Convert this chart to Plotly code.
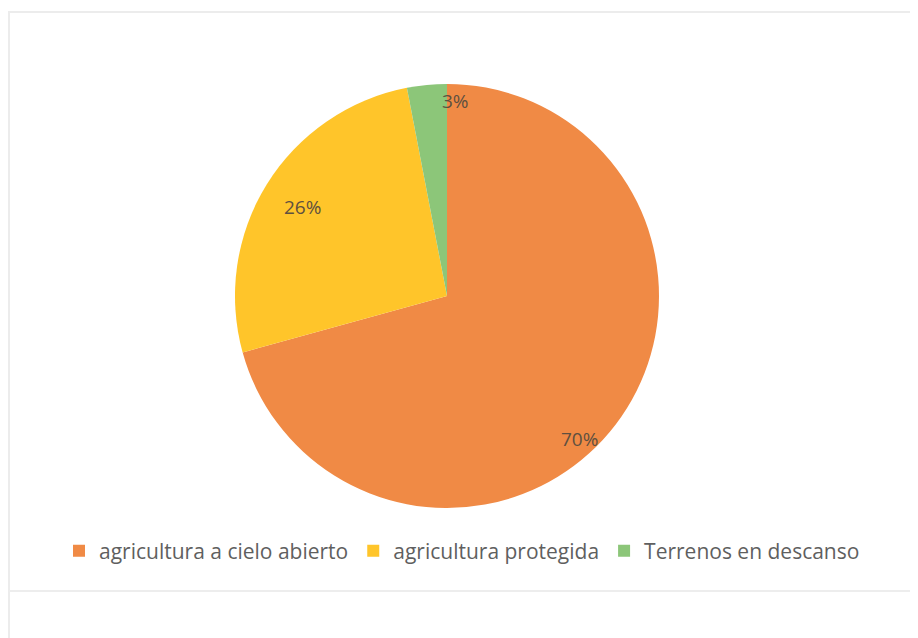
import math
import plotly.graph_objects as go

labels = ["agricultura a cielo abierto", "agricultura protegida", "Terrenos en descanso"]
values = [70, 26, 3]
colors = ["#F08A45", "#FFC52A", "#8CC679"]
label_text = ["70%", "26%", "3%"]

# the page body has an 8px margin, so the figure is drawn 8px in from the corner
OFF = 8
W, H = 918 - OFF, 638 - OFF
cx, cy, R = 447 - OFF, 296 - OFF, 212

fig = go.Figure(go.Pie(
    labels=labels,
    values=values,
    sort=False,
    direction="clockwise",
    rotation=0,
    marker=dict(colors=colors, line=dict(width=0)),
    textinfo="none",
    hoverinfo="label+percent",
    domain=dict(x=[(cx - R) / W, (cx + R) / W], y=[(H - cy - R) / H, (H - cy + R) / H]),
))

# labels placed near the rim at each slice's mid-angle (computed from data)
total = sum(values)
radial = [0.92, 0.80, 0.92]
angle_shift = [10, 0, 8]
cum = 0
annotations = []
for v, t, rf, sh in zip(values, label_text, radial, angle_shift):
    mid = (cum + v / 2) / total * 360 + sh
    cum += v
    px = cx + rf * R * math.sin(math.radians(mid))
    py = cy - rf * R * math.cos(math.radians(mid))
    annotations.append(dict(
        x=px / W, y=(H - py) / H, xref="paper", yref="paper",
        xanchor="center", yanchor="middle",
        text=t, showarrow=False,
        font=dict(family="Open Sans", size=19, color="#5E5040"),
    ))

fig.update_layout(
    width=W, height=H,
    margin=dict(l=0, r=0, t=0, b=0),
    paper_bgcolor="white",
    plot_bgcolor="white",
    showlegend=True,
    legend=dict(
        orientation="h",
        x=(462 - OFF) / W, xanchor="center",
        y=(H - (551 - OFF)) / H, yanchor="middle",
        font=dict(family="Open Sans", size=21, color="#5F5F5F"),
        traceorder="normal",
        itemwidth=30,
    ),
    annotations=annotations,
    shapes=[
        dict(type="rect", xref="paper", yref="paper",
             x0=(9 - OFF) / W, x1=(915 - OFF) / W, y0=-0.01, y1=(H - (12 - OFF)) / H,
             line=dict(color="#ECECEC", width=2)),
        dict(type="line", xref="paper", yref="paper",
             x0=(9 - OFF) / W, x1=(915 - OFF) / W,
             y0=(H - (591 - OFF)) / H, y1=(H - (591 - OFF)) / H,
             line=dict(color="#EDEDED", width=2)),
    ],
)

fig.write_html("out.html")
